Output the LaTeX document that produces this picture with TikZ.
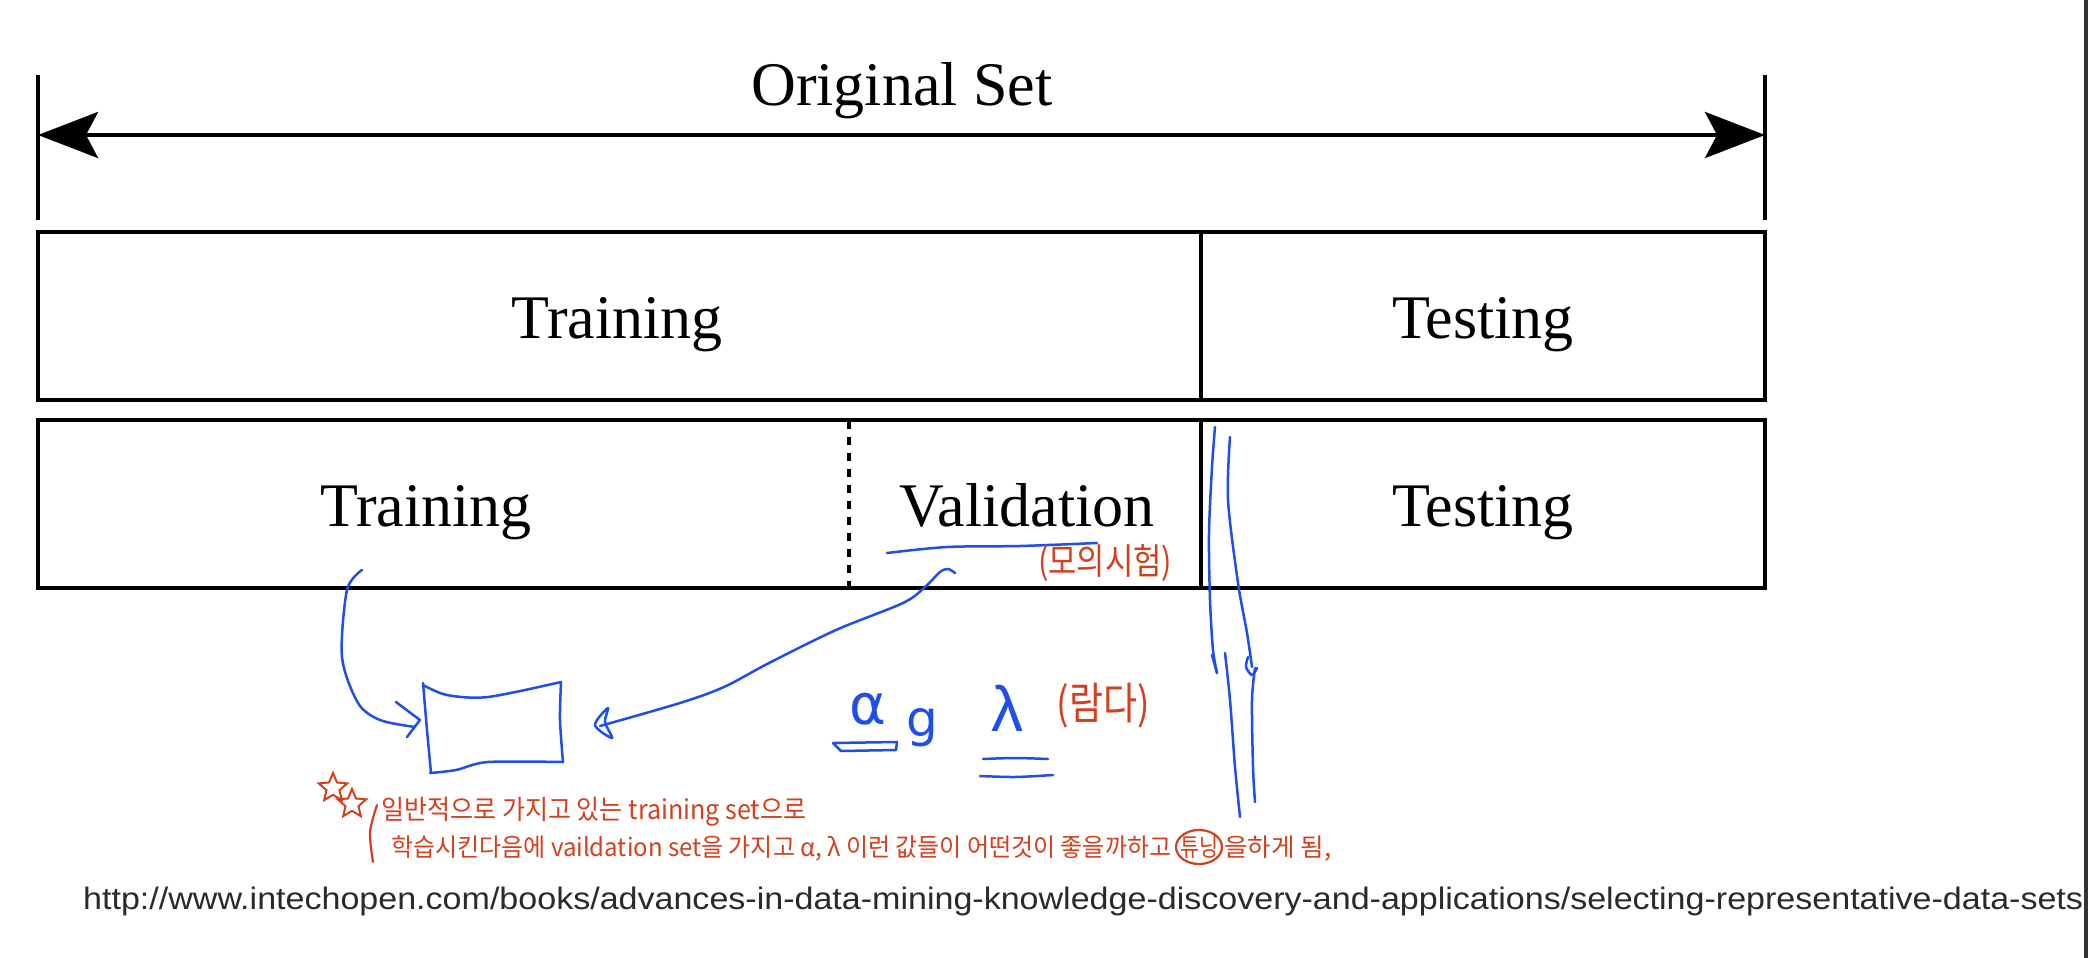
\documentclass[tikz,border=0pt]{standalone}
\usepackage{fontspec}
\usepackage{graphicx}
\setmainfont{Liberation Serif}
\newfontfamily\urlfont{Liberation Sans}
\newfontfamily\kr{Noto Sans CJK KR}
\newfontfamily\gk{DejaVu Sans}
\usetikzlibrary{arrows.meta,shapes.geometric}
\definecolor{hb}{HTML}{1F4FE6}
\definecolor{hr}{HTML}{D4401E}
\definecolor{urlc}{HTML}{2A2A2A}
\tikzset{
  cell/.style={draw, line width=3.5pt, inner sep=0pt, minimum height=168pt},
  lbl/.style={font=\fontsize{62}{62}\selectfont, anchor=base, inner sep=0pt},
  tickline/.style={line width=4pt},
  divdash/.style={line width=3.5pt, dash pattern=on 8pt off 8pt},
  hand/.style={draw=hb, line width=2.5pt, line cap=round, line join=round},
  redhand/.style={draw=hr, line width=2.2pt, line cap=round, line join=round},
  note/.style={text=hr, font=\kr\fontsize{27}{27}\selectfont, anchor=base west, inner sep=0pt},
  greek/.style={text=hb, inner sep=0pt, anchor=base},
}
\begin{document}
\begin{tikzpicture}[x=1pt,y=-1pt]
\useasboundingbox (0,0) rectangle (2088,958);
\fill[white] (0,0) rectangle (2088,958);

% Original set dimension line
\coordinate (lt) at (38,75); \coordinate (lb) at (38,220);
\coordinate (rt) at (1765,75); \coordinate (rb) at (1765,220);
\draw[tickline] (lt) -- (lb);
\draw[tickline] (rt) -- (rb);
\coordinate (la) at (38,135); \coordinate (ra) at (1765,135);
\draw[line width=4pt, {Stealth[length=60pt,width=46pt,inset=12pt]}-{Stealth[length=60pt,width=46pt,inset=12pt]}] (la) -- (ra);
\node[lbl] (orig) at (902,105) {Original Set};

% cells
\node[cell, minimum width=1163pt] (tr1) at (619.5,316) {};
\node[cell, minimum width=564pt] (te1) at (1483,316) {};
\node[cell, minimum width=1163pt] (tv2) at (619.5,504) {};
\node[cell, minimum width=564pt] (te2) at (1483,504) {};
\coordinate (dt) at (849,421); \coordinate (db) at (849,588);
\draw[divdash] (dt) -- (db);

\node[lbl] (ttr1) at (617,338) {Training};
\node[lbl] (tte1) at (1483,338) {Testing};
\node[lbl] (ttr2) at (426,526) {Training};
\node[lbl] (tval) at (1027,526) {Validation};
\node[lbl] (tte2) at (1483,526) {Testing};

% URL
\node[anchor=base west, inner sep=0pt, text=urlc] (url) at (83,909)
  {\resizebox{2000pt}{\height}{\urlfont\fontsize{31}{31}\selectfont http://www.intechopen.com/books/advances-in-data-mining-knowledge-discovery-and-applications/selecting-representative-data-sets}};

% right border
\draw[line width=4pt, black!80] (2086,0) -- (2086,958);

% ---------- blue handwriting ----------
% underline under Validation
\draw[hand] plot[smooth] coordinates {(887,553) (947,547) (1020,546) (1097,543)};
% hand drawn box
\draw[hand] plot[smooth] coordinates {(423,685) (447,695) (488,697) (561,682)};
\draw[hand] plot[smooth] coordinates {(561,682) (560,720) (563,762)};
\draw[hand] plot[smooth] coordinates {(563,762) (488,762) (456,770) (430,773)};
\draw[hand] plot[smooth] coordinates {(423,683) (427,730) (431,773)};
% curve from training
\draw[hand] plot[smooth] coordinates {(362,570) (347,590) (342,657) (358,703) (380,720) (415,727)};
\draw[hand] (396,702) -- (420,720) -- (407,737);
% curve from validation
\draw[hand] plot[smooth] coordinates {(955,573) (948,569) (940,572) (925,587) (903,603) (836,630) (769,663) (724,687) (680,703) (600,726)};
\draw[hand] plot[smooth cycle] coordinates {(608,708) (595,725) (612,738) (605,722)};
% alpha, g, lambda
\node[greek, font=\gk\fontsize{56}{56}\selectfont] (alpha) at (868,724) {α};
\draw[hand] (833,743) -- (897,742) -- (896,750) -- (841,751) -- cycle;
\node[greek, font=\gk\fontsize{50}{50}\selectfont] (gg) at (922,736) {g};
\node[greek, font=\urlfont\fontsize{64}{64}\selectfont] (lam) at (1007,731) {λ};
\draw[hand] plot[smooth] coordinates {(983,759) (1015,758) (1048,759)};
\draw[hand] plot[smooth] coordinates {(980,776) (1015,777) (1053,775)};
% vertical lines
\draw[hand] plot[smooth] coordinates {(1215,427) (1212,467) (1209,533) (1210,600) (1213,650) (1217,673)};
\draw[hand] (1212,655) -- (1217,673);
\draw[hand] plot[smooth] coordinates {(1230,437) (1228,500) (1238,583) (1247,633) (1252,667)};
\draw[hand] plot[smooth] coordinates {(1248,657) (1246,667) (1252,675) (1257,668)};
\draw[hand] plot[smooth] coordinates {(1225,653) (1230,700) (1235,767) (1240,817)};
\draw[hand] plot[smooth] coordinates {(1255,668) (1252,700) (1253,767) (1255,802)};

% ---------- red handwriting ----------
\node[text=hr, inner sep=0pt, font=\kr\fontsize{36}{36}\selectfont] (mock) at (1105,563) {\resizebox{134pt}{\height}{(모의시험)}};
\node[text=hr, inner sep=0pt, font=\kr\fontsize{44}{44}\selectfont] (lamk) at (1103,706) {\resizebox{93pt}{\height}{(람다)}};
\node[star, star points=5, star point ratio=2.2, draw=hr, line width=2pt, minimum size=30pt, inner sep=0pt] (st1) at (333,788) {};
\node[star, star points=5, star point ratio=2.2, draw=hr, line width=2pt, minimum size=30pt, inner sep=0pt] (st2) at (352,804) {};
\draw[redhand] plot[smooth] coordinates {(377,805) (370,832) (373,862)};
\node[note] (n1) at (381,819) {\resizebox{425pt}{\height}{일반적으로 가지고 있는 training set으로}};
\node[note, font=\kr\fontsize{25}{25}\selectfont] (n2) at (391,856) {\resizebox{780pt}{\height}{학습시킨다음에 vaildation set을 가지고 α, λ 이런 값들이 어떤것이 좋을까하고}};
\node[note, anchor=base, font=\kr\fontsize{25}{25}\selectfont] (n3) at (1199,856) {\resizebox{38pt}{\height}{튜닝}};
\draw[redhand] (1199,847) ellipse [x radius=23pt, y radius=17pt];
\node[note, font=\kr\fontsize{25}{25}\selectfont] (n4) at (1224,856) {\resizebox{107pt}{\height}{을하게 됨,}};
\end{tikzpicture}
\end{document}
